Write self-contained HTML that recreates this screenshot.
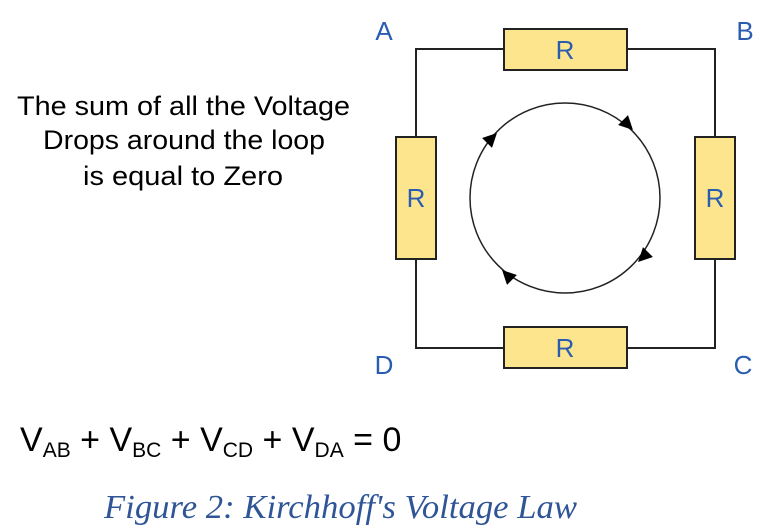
<!DOCTYPE html>
<html><head><style>body{margin:0;background:#fff}svg{display:block}</style></head><body>
<svg width="759" height="525" viewBox="0 0 759 525" xmlns="http://www.w3.org/2000/svg">
<defs><marker id="ah" viewBox="0 0 10 10" refX="5" refY="5" markerWidth="16" markerHeight="14" markerUnits="userSpaceOnUse" orient="auto"><path d="M0,0 L10,5 L0,10 z" fill="#000"/></marker></defs>
<g font-family="Liberation Sans, sans-serif" fill="#000">
<text x="17" y="115" font-size="27" textLength="333" lengthAdjust="spacingAndGlyphs">The sum of all the Voltage</text>
<text x="43" y="149" font-size="27" textLength="282" lengthAdjust="spacingAndGlyphs">Drops around the loop</text>
<text x="83" y="185" font-size="27" textLength="200" lengthAdjust="spacingAndGlyphs">is equal to Zero</text>
<text x="20" y="451" font-size="34">V<tspan font-size="21" dy="6">AB</tspan><tspan dy="-6"> + V</tspan><tspan font-size="21" dy="6">BC</tspan><tspan dy="-6"> + V</tspan><tspan font-size="21" dy="6">CD</tspan><tspan dy="-6"> + V</tspan><tspan font-size="21" dy="6">DA</tspan><tspan dy="-6"> = 0</tspan></text>
</g>
<text x="104" y="518" font-family="Liberation Serif, serif" font-style="italic" font-size="34" fill="#2f5597" textLength="473" lengthAdjust="spacingAndGlyphs">Figure 2: Kirchhoff's Voltage Law</text>
<g stroke="#222" stroke-width="2" fill="none">
<path d="M416,137 V49 H504 M627,49 H715 V137 M715,259 V348 H627 M504,348 H416 V259"/>
</g>
<g fill="#fde58e" stroke="#222" stroke-width="2">
<rect x="504" y="29" width="123" height="41"/>
<rect x="504" y="327" width="123" height="41"/>
<rect x="396" y="137" width="40" height="122"/>
<rect x="695" y="137" width="40" height="122"/>
</g>
<g font-family="Liberation Sans, sans-serif" font-size="26" fill="#2a5db0" text-anchor="middle">
<text x="565" y="59">R</text><text x="565" y="357">R</text>
<text x="416" y="207">R</text><text x="715" y="207">R</text>
<text x="384" y="40">A</text><text x="745" y="40">B</text>
<text x="384" y="374">D</text><text x="743" y="374">C</text>
</g>
<circle cx="565" cy="198" r="95" fill="none" stroke="#222" stroke-width="1.5"/>
<g fill="none" stroke="none">
<path d="M627,124 L628,125" marker-end="url(#ah)"/>
<path d="M644,256 L643,257" marker-end="url(#ah)"/>
<path d="M508,276 L507,275" marker-end="url(#ah)"/>
<path d="M491,139 L492,138" marker-end="url(#ah)"/>
</g>
</svg>
</body></html>
